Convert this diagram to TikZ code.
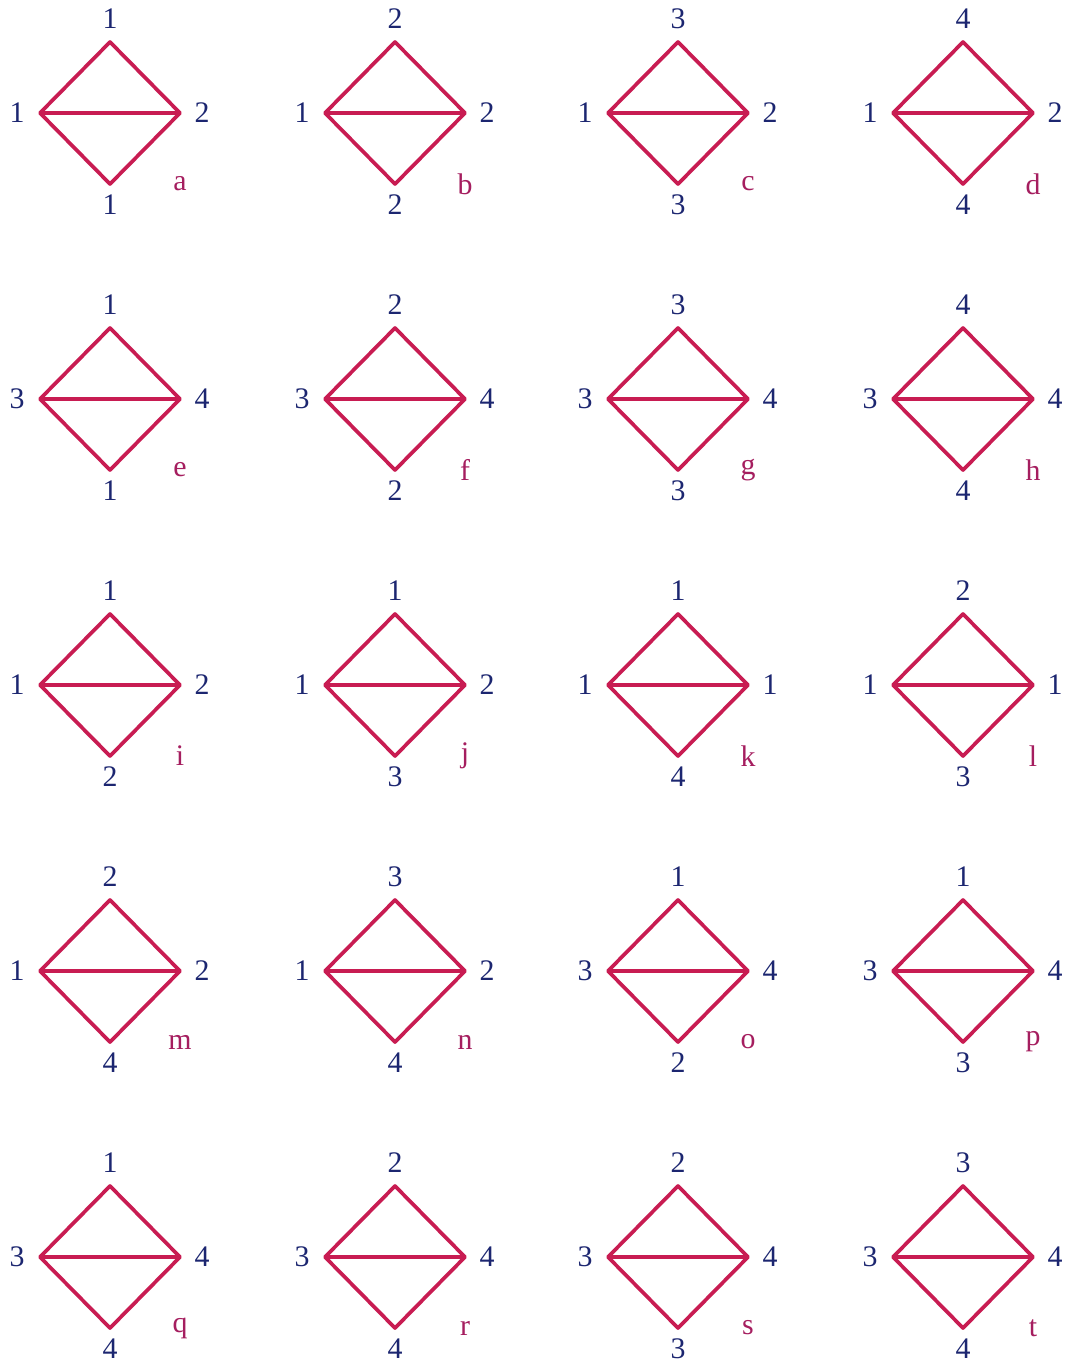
\documentclass[tikz,border=0pt]{standalone}
\usepackage{fontspec}
\setmainfont{Liberation Serif}
\definecolor{rim}{RGB}{200,28,82}
\definecolor{navy}{RGB}{28,38,112}
\definecolor{tagred}{RGB}{165,30,95}

\begin{document}
\begin{tikzpicture}[x=0.02cm,y=-0.02cm,
      edge/.style={draw=rim,line width=2.1pt,line join=round},
      num/.style={text=navy,inner sep=0pt,font=\fontsize{17}{20}\selectfont},
      tag/.style={text=tagred,inner sep=0pt,font=\fontsize{17}{20}\selectfont}]
      \useasboundingbox (0,4) rectangle (1066,1369);

      % one diamond per cell: centre / top / left / right / bottom / letter
      \foreach \cx/\cy/\t/\l/\r/\b/\n in {
          110/117/1/1/2/1/a, 395/117/2/1/2/2/b, 678/117/3/1/2/3/c, 963/117/4/1/2/4/d,
          110/403/1/3/4/1/e, 395/403/2/3/4/2/f, 678/403/3/3/4/3/g, 963/403/4/3/4/4/h,
          110/689/1/1/2/2/i, 395/689/1/1/2/3/j, 678/689/1/1/1/4/k, 963/689/2/1/1/3/l,
          110/975/2/1/2/4/m, 395/975/3/1/2/4/n, 678/975/1/3/4/2/o, 963/975/1/3/4/3/p,
          110/1261/1/3/4/4/q, 395/1261/2/3/4/4/r, 678/1261/2/3/4/3/s, 963/1261/3/3/4/4/t}
      {
        \coordinate (\n-top) at (\cx,\cy-71);
        \coordinate (\n-left) at (\cx-70,\cy);
        \coordinate (\n-right) at (\cx+70,\cy);
        \coordinate (\n-bot) at (\cx,\cy+71);

        \draw[edge] (\n-left) -- (\n-top) -- (\n-right) -- (\n-bot) -- cycle;
        \draw[edge] (\n-left) -- (\n-right);

        \node[num] (\n-topnum) at (\cx,\cy-94) {\t};
        \node[num] (\n-leftnum) at (\cx-93,\cy) {\l};
        \node[num] (\n-rightnum) at (\cx+92,\cy) {\r};
        \node[num] (\n-botnum) at (\cx,\cy+92) {\b};
        \node[tag] (\n-tag) at (\cx+70,\cy+71) {\n};
      }
    \end{tikzpicture}
\end{document}
